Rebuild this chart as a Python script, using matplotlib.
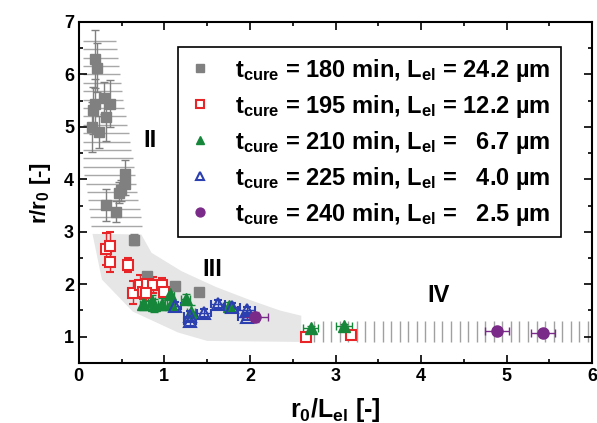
import numpy as np
import matplotlib
matplotlib.use('Agg')
import matplotlib.pyplot as plt
from matplotlib.ticker import MultipleLocator

plt.rcParams['font.family'] = ['Liberation Sans', 'DejaVu Sans']
plt.rcParams['font.weight'] = 'bold'
plt.rcParams['axes.labelweight'] = 'bold'
plt.rcParams['mathtext.fontset'] = 'custom'
plt.rcParams['mathtext.rm'] = 'Liberation Sans:bold'
plt.rcParams['mathtext.it'] = 'Liberation Sans:bold'
plt.rcParams['mathtext.bf'] = 'Liberation Sans:bold'

# ── data ───────────────────────────────────────────────────────────────────
# t_cure = 180 min
x180 = [0.19, 0.21, 0.17, 0.19, 0.29, 0.32, 0.16, 0.24, 0.37,
        0.54, 0.54, 0.49, 0.47, 0.32, 0.43, 0.65, 0.80, 1.13, 1.40]
y180 = [6.29, 6.13, 5.32, 5.44, 5.55, 5.18, 5.00, 4.90, 5.44,
        4.10, 3.91, 3.79, 3.74, 3.51, 3.38, 2.85, 2.16, 1.97, 1.86]
ey180 = [0.55, 0.47, 0.45, 0.47, 0.30, 0.45, 0.47, 0.30, 0.45,
         0.27, 0.20, 0.20, 0.20, 0.30, 0.20, 0.10, 0.08, 0.06, 0.05]

# t_cure = 195 min
x195 = [0.32, 0.37, 0.37, 0.58, 0.63, 0.72, 0.75, 0.80, 0.87, 0.97, 0.78, 1.00, 2.65, 3.18]
y195 = [2.67, 2.72, 2.43, 2.37, 1.84, 1.98, 1.86, 2.00, 1.98, 1.98, 1.84, 1.85, 1.00, 1.04]
ey195 = [0.30, 0.28, 0.20, 0.14, 0.22, 0.20, 0.15, 0.15, 0.15, 0.14, 0.15, 0.12, 0.04, 0.04]

# t_cure = 210 min
x210 = [0.75, 0.85, 0.88, 0.97, 1.06, 1.08, 1.25, 1.31, 1.75, 2.71, 3.10]
y210 = [1.63, 1.68, 1.60, 1.62, 1.82, 1.62, 1.72, 1.48, 1.58, 1.16, 1.20]
ex210 = [0.04, 0.04, 0.04, 0.04, 0.05, 0.05, 0.05, 0.05, 0.06, 0.09, 0.09]
ey210 = [0.12, 0.12, 0.12, 0.12, 0.10, 0.12, 0.10, 0.12, 0.08, 0.05, 0.05]

# t_cure = 225 min
x225 = [1.13, 1.30, 1.30, 1.46, 1.63, 1.79, 1.96, 1.96]
y225 = [1.59, 1.39, 1.30, 1.45, 1.62, 1.56, 1.51, 1.38]
ex225 = [0.07, 0.07, 0.07, 0.08, 0.08, 0.09, 0.10, 0.10]
ey225 = [0.08, 0.10, 0.10, 0.08, 0.08, 0.08, 0.06, 0.06]

# t_cure = 240 min
x240 = [2.06, 4.89, 5.42]
y240 = [1.38, 1.10, 1.07]
ex240 = [0.15, 0.14, 0.14]
ey240 = [0.10, 0.03, 0.03]

labels = [r't$_{cure}$ = 180 min, L$_{el}$ = 24.2 µm',
          r't$_{cure}$ = 195 min, L$_{el}$ = 12.2 µm',
          r't$_{cure}$ = 210 min, L$_{el}$ =   6.7 µm',
          r't$_{cure}$ = 225 min, L$_{el}$ =   4.0 µm',
          r't$_{cure}$ = 240 min, L$_{el}$ =   2.5 µm']

# regime outlines
region3_x = [0.16, 0.73, 0.85, 1.20, 1.60, 2.00, 2.35, 2.60, 2.60, 1.50, 1.16, 0.63, 0.27]
region3_y = [2.96, 2.95, 2.60, 2.25, 1.95, 1.70, 1.50, 1.40, 0.90, 0.92, 1.08, 1.48, 2.09]
region2_y = np.arange(3.12, 6.80, 0.16)
region2_left = np.interp(region2_y, [3.1, 4.3, 6.9], [0.14, 0.05, 0.05])
region2_right = np.interp(region2_y, [3.1, 4.5, 5.5, 6.9], [0.74, 0.62, 0.52, 0.42])
region4_x = np.arange(2.75, 5.96, 0.1)

# ── plot ───────────────────────────────────────────────────────────────────
fig = plt.figure(figsize=(5.97, 4.23), dpi=100)
ax = fig.add_axes([0.132, 0.142, 0.860, 0.806])

ax.fill(region3_x, region3_y, color='#e6e6e6', lw=0, zorder=0)
ax.hlines(region2_y, region2_left, region2_right, color='#a8a8a8', lw=1, zorder=0)
ax.vlines(region4_x, 0.9, 1.3, color='#a0a0a0', lw=1, zorder=0)

kw = dict(capsize=3, elinewidth=1, capthick=1, ls='none')
h1 = ax.errorbar(x180, y180, yerr=ey180, fmt='s', ms=7, color='#808080', ecolor='#808080', **kw)
h2 = ax.errorbar(x195, y195, yerr=ey195, fmt='s', ms=6.5, mfc='white', mec='#e8262a', mew=1.5,
                 ecolor='#e8262a', **kw)
h3 = ax.errorbar(x210, y210, xerr=ex210, yerr=ey210, fmt='^', ms=8, color='#16873a',
                 ecolor='#16873a', **kw)
h4 = ax.errorbar(x225, y225, xerr=ex225, yerr=ey225, fmt='^', ms=8, mfc='none', mec='#2b3fb0',
                 mew=1.5, ecolor='#2b3fb0', **kw)
h5 = ax.errorbar(x240, y240, xerr=ex240, yerr=ey240, fmt='o', ms=8, color='#7a2a88',
                 ecolor='#7a2a88', **kw)

ax.text(0.83, 4.75, 'II', fontsize=17, fontweight='bold', ha='center', va='center')
ax.text(1.56, 2.28, 'III', fontsize=17, fontweight='bold', ha='center', va='center')
ax.text(4.2, 1.78, 'IV', fontsize=17, fontweight='bold', ha='center', va='center')

ax.set_xlim(0, 6)
ax.set_ylim(0.5, 7)
ax.xaxis.set_major_locator(MultipleLocator(1))
ax.xaxis.set_minor_locator(MultipleLocator(0.5))
ax.set_yticks([1, 2, 3, 4, 5, 6, 7])
ax.yaxis.set_minor_locator(MultipleLocator(0.5))
ax.tick_params(which='both', direction='in', top=True, right=True, width=1.2)
ax.tick_params(which='major', length=6, labelsize=13)
ax.tick_params(which='minor', length=3)
for lab in ax.get_xticklabels() + ax.get_yticklabels():
    lab.set_fontweight('bold')
for s in ax.spines.values():
    s.set_linewidth(1.5)

ax.set_xlabel(r'r$_0$/L$_{el}$ [-]', fontsize=18, fontweight='bold', labelpad=8)
ax.set_ylabel(r'r/r$_0$ [-]', fontsize=16, fontweight='bold', labelpad=8)

handles = [h[0] for h in (h1, h2, h3, h4, h5)]
leg = ax.legend(handles, labels, loc='upper right', bbox_to_anchor=(0.962, 0.962),
                fontsize=17, frameon=True, fancybox=False, edgecolor='black',
                markerscale=0.8, handlelength=1.0, handletextpad=1.0, labelspacing=0.38,
                borderpad=0.42, framealpha=1)
leg.get_frame().set_linewidth(1.2)
for t in leg.get_texts():
    t.set_fontweight('bold')

fig.savefig('out.png', dpi=100)
